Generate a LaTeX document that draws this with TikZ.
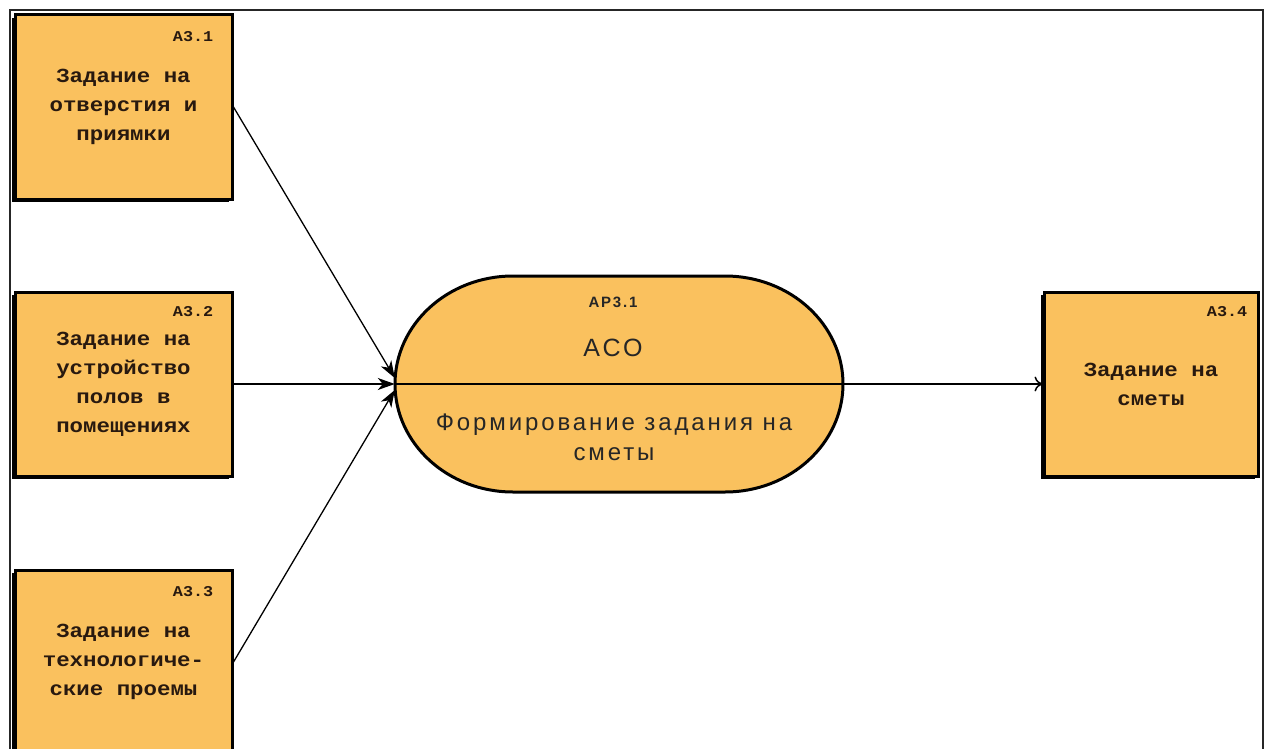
\documentclass[tikz,border=0pt]{standalone}
\usepackage{fontspec}
\setmainfont{Liberation Sans}
\newfontfamily\boxfont[FakeStretch=1.12]{Liberation Mono}
\newfontfamily\procfont[LetterSpace=12]{Liberation Sans}
\usetikzlibrary{arrows.meta,shadows}
\definecolor{taskfill}{RGB}{250,193,94}
\definecolor{inktext}{RGB}{40,25,15}

\begin{document}
\begin{tikzpicture}[x=1pt,y=-1pt,
  taskbox/.style={rectangle, fill=taskfill, draw=black, line width=3pt,
    minimum width=217pt, minimum height=184pt, inner sep=0pt, align=center,
    text=inktext, font=\boxfont\bfseries\fontsize{20}{29}\selectfont,
    general shadow={fill=black, shadow xshift=-3pt, shadow yshift=-3pt}},
  taskid/.style={inner sep=0pt, text=inktext, font=\boxfont\bfseries\fontsize{15}{16}\selectfont},
  proctext/.style={inner sep=0pt, text=black!85},
  conn/.style={draw=black, line width=1.3pt},
  inhead/.style={-{Stealth[length=17pt,width=12pt,inset=5pt]}},
  outhead/.style={-{To[length=8pt,width=15pt,line width=1.5pt]}},
  frame/.style={draw=black!85, line width=2pt}
]
\useasboundingbox (0,0) rectangle (1266,749);
\clip (0,0) rectangle (1266,749);

% page frame (open at the bottom)
\coordinate (fbl) at (10,760);
\coordinate (ftl) at (10,10);
\coordinate (ftr) at (1263,10);
\coordinate (fbr) at (1263,760);
\draw[frame] (fbl) -- (ftl) -- (ftr) -- (fbr);

% input tasks
\node[taskbox] (b1) at (123.5,107) {Задание на\\отверстия и\\приямки};
\node[taskbox] (b2) at (123.5,384) {Задание на\\устройство\\полов в\\помещениях};
\node[taskbox] (b3) at (123.5,662) {Задание на\\технологиче-\\ские проемы};
% output task
\node[taskbox, minimum width=214pt] (b4) at (1151,384) {Задание на\\сметы};

\node[taskid, anchor=east] (l1) at ([xshift=-20pt,yshift=-23pt]b1.north east) {А3.1};
\node[taskid, anchor=east] (l2) at ([xshift=-20pt,yshift=-21pt]b2.north east) {А3.2};
\node[taskid, anchor=east] (l3) at ([xshift=-20pt,yshift=-23pt]b3.north east) {А3.3};
\node[taskid, anchor=east] (l4) at ([xshift=-12pt,yshift=-21pt]b4.north east) {А3.4};

% process element: flat top and bottom with elliptic ends
\filldraw[fill=taskfill, draw=black, line width=3pt]
  (513,276) -- (725,276) arc[start angle=-90, end angle=90, x radius=118, y radius=108]
  -- (513,492) arc[start angle=90, end angle=270, x radius=118, y radius=108] -- cycle;
\node[minimum width=448pt, minimum height=216pt, inner sep=0pt] (proc) at (619,384) {};
\draw[conn] (proc.west) -- (proc.east);

\node[proctext, font=\procfont\bfseries\fontsize{15}{17}\selectfont] (pid) at (613,302) {АР3.1};
\node[proctext, font=\procfont\fontsize{25}{28}\selectfont] (pname) at (613,348) {АСО};
\node[proctext, align=center, font=\procfont\fontsize{24}{30}\selectfont] (pdesc) at (614,437) {Формирование задания на\\сметы};

% flows
\draw[conn, inhead] (b1.east) -- ([yshift=6pt]proc.west);
\draw[conn, inhead] (b2.east) -- (proc.west);
\draw[conn, inhead] (b3.east) -- ([yshift=-6pt]proc.west);
\draw[conn, outhead] (proc.east) -- (b4.west);
\end{tikzpicture}
\end{document}
